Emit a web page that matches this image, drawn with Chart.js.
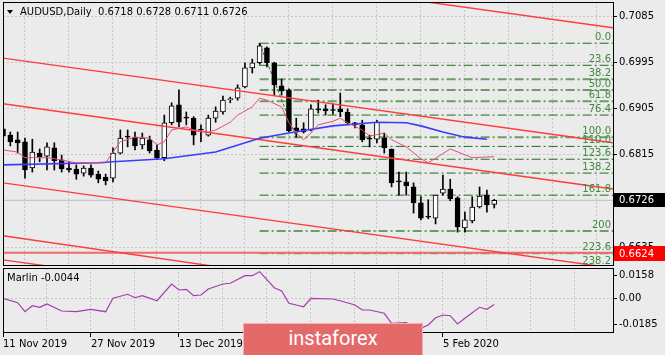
<!DOCTYPE html>
<html>
<head>
<meta charset="utf-8">
<script src="https://cdn.jsdelivr.net/npm/chart.js@4.4.1/dist/chart.umd.min.js"></script>
<style>
html,body{margin:0;padding:0;background:#ebebeb;}
#wrap{position:relative;width:665px;height:355px;overflow:hidden;}
#main{position:absolute;left:0;top:0;}
#sub{position:absolute;left:0;top:267px;}
#logo{position:absolute;left:243px;top:323px;width:178px;height:31px;background:#e46a6a;border:1px solid #f2b0b0;color:#fff;font:20px Roboto,sans-serif;text-align:center;line-height:29px;}
</style>
</head>
<body>
<div id="wrap">
<canvas id="main" width="665" height="267"></canvas>
<canvas id="sub" width="665" height="88"></canvas>
<div id="logo">instaforex</div>
</div>
<script>
// daily bars, 11 Nov 2019 .. 14 Feb 2020
const open  = [0.6865,0.6853,0.6844,0.6840,0.6789,0.6818,0.6812,0.6828,0.6805,0.6789,0.6787,0.6779,0.6789,0.6777,0.6771,0.6769,0.6818,0.6851,0.6849,0.6834,0.6844,0.6824,0.6809,0.6877,0.6912,0.6887,0.6886,0.6864,0.6853,0.6886,0.6898,0.6922,0.6925,0.6947,0.6984,0.6994,0.7023,0.6994,0.6949,0.6941,0.6867,0.6865,0.6863,0.6903,0.6904,0.6902,0.6904,0.6898,0.6877,0.6873,0.6846,0.6845,0.6847,0.6826,0.6763,0.6762,0.6752,0.6721,0.6694,0.6691,0.6740,0.6748,0.6731,0.6672,0.6686,0.6713,0.6736,0.6718];
const high  = [0.6869,0.6859,0.6859,0.6847,0.6845,0.6826,0.6838,0.6838,0.6814,0.6801,0.6795,0.6793,0.6795,0.6783,0.6777,0.6828,0.6863,0.6863,0.6859,0.6857,0.6851,0.6834,0.6892,0.6916,0.6941,0.6898,0.6889,0.6873,0.6892,0.6908,0.6929,0.6927,0.6951,0.6994,0.7001,0.7032,0.7025,0.6995,0.6962,0.6943,0.6886,0.6877,0.6912,0.6921,0.6912,0.6914,0.6935,0.6904,0.6878,0.6882,0.6853,0.6882,0.6857,0.6826,0.6781,0.6781,0.6760,0.6733,0.6727,0.6736,0.6775,0.6767,0.6733,0.6703,0.6733,0.6752,0.6746,0.6728];
const low   = [0.6844,0.6832,0.6818,0.6769,0.6781,0.6801,0.6785,0.6785,0.6781,0.6781,0.6767,0.6773,0.6771,0.6760,0.6756,0.6762,0.6816,0.6830,0.6824,0.6826,0.6818,0.6805,0.6803,0.6873,0.6869,0.6873,0.6834,0.6840,0.6851,0.6878,0.6894,0.6916,0.6921,0.6945,0.6974,0.6992,0.6986,0.6931,0.6931,0.6859,0.6849,0.6857,0.6861,0.6896,0.6892,0.6894,0.6889,0.6873,0.6867,0.6840,0.6830,0.6838,0.6818,0.6752,0.6736,0.6736,0.6701,0.6688,0.6690,0.6680,0.6736,0.6725,0.6664,0.6664,0.6682,0.6711,0.6703,0.6711];
const close = [0.6851,0.6840,0.6838,0.6785,0.6820,0.6811,0.6830,0.6803,0.6787,0.6785,0.6777,0.6789,0.6775,0.6767,0.6764,0.6818,0.6847,0.6849,0.6832,0.6847,0.6822,0.6809,0.6877,0.6910,0.6878,0.6886,0.6853,0.6863,0.6886,0.6900,0.6921,0.6923,0.6945,0.6984,0.6994,0.7027,0.6994,0.6951,0.6939,0.6861,0.6861,0.6859,0.6904,0.6902,0.6900,0.6901,0.6898,0.6877,0.6873,0.6844,0.6845,0.6878,0.6828,0.6760,0.6762,0.6754,0.6721,0.6691,0.6693,0.6736,0.6748,0.6729,0.6674,0.6688,0.6713,0.6734,0.6717,0.6726];

// moving averages (bar index / price)
const redMaIdx = [0,2,3,6,7,10,14,15,16,18,20,21,22,23,25,26,28,29,31,32,34,35,36,38,39,40,41,42,43,45,46,47,49,50,52,53,55,57,58,61,64,67];
const redMaVal = [0.6824,0.6820,0.6809,0.6809,0.6807,0.6799,0.6799,0.6820,0.6840,0.6849,0.6847,0.6834,0.6840,0.6863,0.6869,0.6863,0.6859,0.6863,0.6878,0.6892,0.6908,0.6925,0.6921,0.6908,0.6877,0.6857,0.6844,0.6857,0.6873,0.6880,0.6886,0.6877,0.6863,0.6851,0.6857,0.6844,0.6830,0.6807,0.6799,0.6826,0.6809,0.6811];
const blueMaIdx = [0,13,15,22,29,35,39,45,51,55,57,60,63,66];
const blueMaVal = [0.6795,0.6799,0.6801,0.6807,0.6820,0.6847,0.6857,0.6871,0.6878,0.6877,0.6871,0.6859,0.6849,0.6845];

// red channel lines: price at first bar and at right edge
const channelStart = [0.7227,0.7003,0.6914,0.6760,0.6657,0.6610];
const channelEnd   = [0.7062,0.6838,0.6748,0.6594,0.6485,0.6444];

// fibonacci grid from the 31 Dec high to the 8 Jan low
const fibLabels = ['0.0','23.6','38.2','50.0','61.8','76.4','100.0','110.0','123.6','138.2','161.8','200','223.6','238.2'];
const fibPrices = [0.7032,0.6989,0.6962,0.6941,0.6919,0.6892,0.6849,0.6831,0.6806,0.6779,0.6736,0.6666,0.6623,0.6596];
const fibFrom = 35, fibTo = 40;

const lastPrice = 0.6726;
const supportPrice = 0.6624;
const priceTicks = [0.7085,0.6995,0.6905,0.6815,0.6725,0.6635];

// Marlin oscillator
const marlinIdx = [0,2,3,4,5,6,8,10,12,14,15,17,18,19,21,23,24,25,26,27,28,30,31,33,34,35,37,38,39,40,41,42,45,46,48,49,50,52,53,55,56,57,58,59,60,61,62,63,65,66,67];
const marlinVal = [0.0,-0.0031,-0.0094,-0.0052,-0.0063,-0.0040,-0.0089,-0.0094,-0.0077,-0.0094,0.0,0.0028,0.0004,0.0018,-0.0017,0.0100,0.0058,0.0063,0.0018,0.0023,0.0065,0.0100,0.0105,0.0158,0.0158,0.0186,0.0074,0.0051,-0.0035,-0.0047,-0.0059,0.0,-0.0005,-0.0017,-0.0047,-0.0082,-0.0082,-0.0105,-0.0175,-0.0171,-0.0199,-0.0210,-0.0187,-0.0136,-0.0117,-0.0122,-0.0180,-0.0140,-0.0063,-0.0077,-0.0044];
const marlinTicks = [0.0158,0,-0.0185];

const labelIdx  = [0,12,24,36,48,60];
const labelText = ['11 Nov 2019','27 Nov 2019','13 Dec 2019','2 Jan 2020','20 Jan 2020','5 Feb 2020'];

const X_MAX = 83.2;
const gridIdx = [6,12,18,24,30,36,42,48,54,60,66,72,78];
const gridIdx2 = [0].concat(gridIdx);
const FONT = '10px "DejaVu Sans"';

Chart.defaults.font.family = '"DejaVu Sans"';
Chart.defaults.font.size = 10;
Chart.defaults.color = '#000';

const bars = open.map((o, i) => i);
const candleFill = close.map((c, i) => c > open[i] ? '#ffffff' : '#000000');

function seg(x0, y0, x1, y1, color, width, dash, order) {
  return {type:'line', data:[{x:x0,y:y0},{x:x1,y:y1}], borderColor:color, borderWidth:width,
    borderDash:dash || [], pointRadius:0, tension:0, order:order};
}

const ds = [];
ds.push({type:'bar', data:bars.map(i => ({x:i, y:[low[i], high[i]]})), backgroundColor:'#000',
  barThickness:1, grouped:false, order:11});
ds.push({type:'bar', data:bars.map(i => ({x:i, y:[open[i], close[i]]})), backgroundColor:candleFill,
  borderColor:'#000', borderWidth:1, borderSkipped:false, barThickness:5, minBarLength:1, grouped:false, order:10});

ds.push(seg(0, lastPrice, X_MAX, lastPrice, '#c2c2c2', 1, [], 30));
ds.push(seg(0, supportPrice, X_MAX, supportPrice, '#f06a6a', 2, [], 5));

const lightFib = ['38.2','50.0','61.8','100.0','200','223.6'];
fibPrices.forEach((p, k) => {
  const light = lightFib.includes(fibLabels[k]);
  ds.push(seg(fibFrom, p, X_MAX, p, light ? '#6b9e62' : '#1d6e1d', light ? 2 : 1, [9,3,2,3], 25));
});
ds.push(seg(fibFrom, fibPrices[0], fibFrom, fibPrices[1], '#1d6e1d', 1, [], 24));
ds.push(seg(fibFrom, fibPrices[0], fibTo, fibPrices[6], '#1d6e1d', 1, [3,2], 24));

channelStart.forEach((p, k) => {
  ds.push(seg(0, p, X_MAX, channelEnd[k], '#ff3c3c', 1.4, [], 3));
});

ds.push({type:'line', data:blueMaIdx.map((x, k) => ({x:x, y:blueMaVal[k]})), borderColor:'#3b3bff',
  borderWidth:1.6, pointRadius:0, tension:0, order:2});
ds.push({type:'line', data:redMaIdx.map((x, k) => ({x:x, y:redMaVal[k]})), borderColor:'#e0506e',
  borderWidth:1, pointRadius:0, tension:0, order:1});

const mainDecor = {
  id:'mainDecor',
  afterDraw(chart) {
    const {ctx, chartArea:a, scales:{y}} = chart;
    ctx.save();
    ctx.strokeStyle = '#000';
    ctx.lineWidth = 1;
    ctx.strokeRect(a.left + 0.5, a.top + 0.5, a.right - a.left, a.bottom - a.top - 1);

    ctx.font = FONT;
    ctx.fillStyle = '#3d8a3d';
    ctx.textAlign = 'right';
    ctx.textBaseline = 'bottom';
    fibPrices.forEach((p, k) => ctx.fillText(fibLabels[k], a.right - 2, y.getPixelForValue(p) - 1));

    // title
    ctx.fillStyle = '#000';
    ctx.beginPath();
    ctx.moveTo(7, 10); ctx.lineTo(13, 10); ctx.lineTo(10, 14); ctx.closePath(); ctx.fill();
    ctx.textAlign = 'left';
    ctx.textBaseline = 'middle';
    ctx.fillText('AUDUSD,Daily  ' + [open[67], high[67], low[67], close[67]].map(v => v.toFixed(4)).join(' '), 20, 12);

    // price boxes
    const yl = Math.round(y.getPixelForValue(lastPrice));
    ctx.fillStyle = '#000';
    ctx.fillRect(a.right + 1, yl - 7, 52, 14);
    ctx.fillStyle = '#fff';
    ctx.fillText(lastPrice.toFixed(4), a.right + 6, yl);
    const ys = Math.round(y.getPixelForValue(supportPrice));
    ctx.fillStyle = '#ff0000';
    ctx.fillRect(a.right + 1, ys - 7, 52, 15);
    ctx.fillStyle = '#fff';
    ctx.fillText(supportPrice.toFixed(4), a.right + 6, ys + 1);
    ctx.restore();
  }
};

new Chart(document.getElementById('main'), {
  type:'bar',
  data:{datasets:ds},
  options:{
    responsive:false, animation:false, events:[],
    layout:{padding:{left:3, top:2, right:0, bottom:1}},
    plugins:{legend:{display:false}, tooltip:{enabled:false}},
    scales:{
      x:{type:'linear', min:0, max:X_MAX, offset:false,
        afterBuildTicks:s => { s.ticks = gridIdx.map(v => ({value:v})); },
        afterFit:s => { s.height = 0; s.paddingLeft = 0; s.paddingRight = 0; },
        ticks:{display:false},
        grid:{color:'#c6c6c6', drawTicks:false},
        border:{display:false, dash:[2,2]}},
      y:{position:'right', min:0.6598, max:0.71123,
        afterBuildTicks:s => { s.ticks = priceTicks.map(v => ({value:v})); },
        afterFit:s => { s.width = 52; s.paddingTop = 0; s.paddingBottom = 0; },
        ticks:{padding:2, callback:v => v.toFixed(4)},
        grid:{color:'#c6c6c6', tickColor:'#000', tickLength:4},
        border:{display:false, dash:[2,2]}}
    }
  },
  plugins:[mainDecor]
});

const subDecor = {
  id:'subDecor',
  afterDraw(chart) {
    const {ctx, chartArea:a} = chart;
    ctx.save();
    ctx.strokeStyle = '#000';
    ctx.lineWidth = 1;
    ctx.strokeRect(a.left + 0.5, a.top + 0.5, a.right - a.left, a.bottom - a.top - 1);
    ctx.font = FONT;
    ctx.fillStyle = '#000';
    ctx.textAlign = 'left';
    ctx.textBaseline = 'middle';
    ctx.fillText('Marlin ' + marlinVal[marlinVal.length - 1].toFixed(4), 7, 11);
    ctx.restore();
  }
};

new Chart(document.getElementById('sub'), {
  type:'line',
  data:{datasets:[{data:marlinIdx.map((x, k) => ({x:x, y:marlinVal[k]})), borderColor:'#a53cb0',
    borderWidth:1.2, pointRadius:0, tension:0}]},
  options:{
    responsive:false, animation:false, events:[],
    layout:{padding:{left:3, top:1, right:0, bottom:0}},
    plugins:{legend:{display:false}, tooltip:{enabled:false}},
    scales:{
      x:{type:'linear', min:0, max:X_MAX, offset:false,
        afterBuildTicks:s => { s.ticks = gridIdx2.map(v => ({value:v})); },
        afterFit:s => { s.height = 22; s.paddingLeft = 0; s.paddingRight = 0; },
        ticks:{autoSkip:false, maxRotation:0, align:'start', padding:1,
          callback:v => { const k = labelIdx.indexOf(v); return k >= 0 ? labelText[k] : ''; }},
        grid:{color:c => (c.tick && c.tick.value === 0) ? 'rgba(0,0,0,0)' : '#c6c6c6',
          tickColor:c => (c.tick && labelIdx.includes(c.tick.value)) ? '#000' : 'rgba(0,0,0,0)', tickLength:4},
        border:{display:false, dash:[2,2]}},
      y:{position:'right', min:-0.0243, max:0.0212,
        afterBuildTicks:s => { s.ticks = marlinTicks.map(v => ({value:v})); },
        afterFit:s => { s.width = 52; s.paddingTop = 0; s.paddingBottom = 0; },
        ticks:{padding:2, callback:v => v === 0 ? '0.00' : v.toFixed(4)},
        grid:{color:c => (c.tick && c.tick.value === 0) ? '#c6c6c6' : 'rgba(0,0,0,0)', tickColor:'#000', tickLength:4},
        border:{display:false, dash:[2,2]}}
    }
  },
  plugins:[subDecor]
});
</script>
</body>
</html>
